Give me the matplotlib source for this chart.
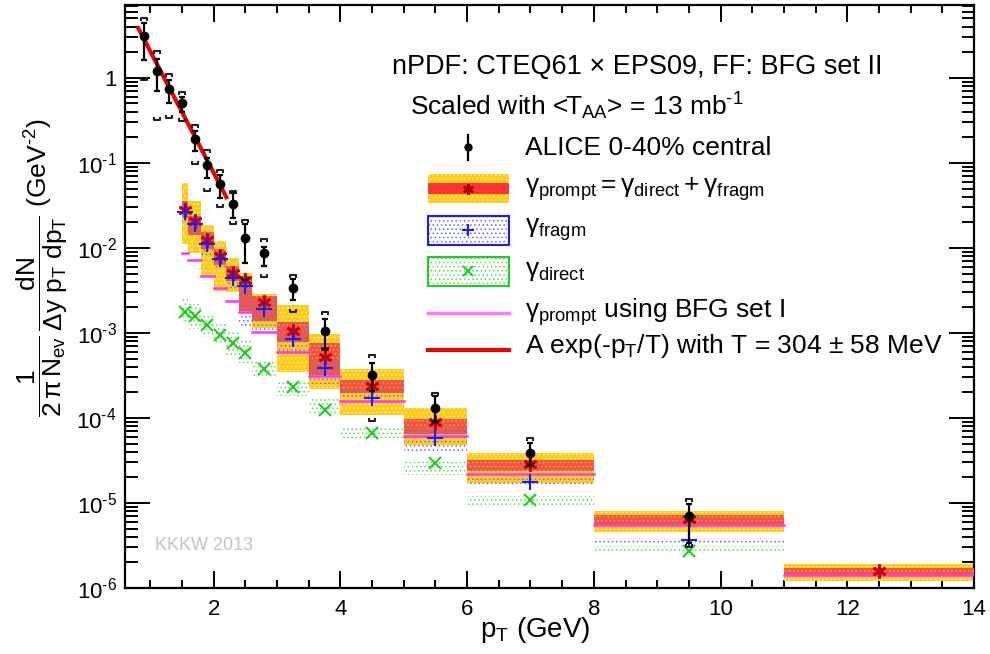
import numpy as np
import matplotlib
matplotlib.use("Agg")
import matplotlib.pyplot as plt
from matplotlib.patches import Rectangle
from matplotlib.path import Path
from matplotlib.lines import Line2D
from matplotlib.ticker import MultipleLocator, FixedLocator, FixedFormatter, NullFormatter

plt.rcParams['font.family'] = ['Liberation Sans', 'DejaVu Sans']
plt.rcParams['mathtext.fontset'] = 'custom'
plt.rcParams['mathtext.rm'] = 'Liberation Sans'
plt.rcParams['mathtext.it'] = 'Liberation Sans'
plt.rcParams['mathtext.bf'] = 'Liberation Sans:bold'
plt.rcParams['mathtext.sf'] = 'Liberation Sans'
plt.rcParams['hatch.linewidth'] = 0.6

# ALICE 0-40% central data
alice_pt = [0.9, 1.1, 1.3, 1.5, 1.7, 1.9, 2.1, 2.3, 2.5, 2.8, 3.25, 3.75, 4.5, 5.5, 7.0, 9.5]
alice_y = [3.12, 1.21, 0.737, 0.50, 0.189, 0.0942, 0.0562, 0.0333, 0.0131, 0.00861,
           0.00336, 0.00105, 3.21e-4, 1.31e-4, 3.89e-5, 7.08e-6]
alice_stat_hi = [4.44, 1.68, 0.95, 0.598, 0.237, 0.115, 0.0718, 0.0437, 0.0193, 0.01025,
                 0.00433, 0.00146, 4.38e-4, 1.81e-4, 5.11e-5, 9.81e-6]
alice_stat_lo = [1.62, 0.693, 0.504, 0.402, 0.138, 0.0656, 0.0391, 0.0225, 0.00663, 0.00621,
                 0.00245, 6.45e-4, 2.08e-4, 8.94e-5, 2.76e-5, 3.37e-6]
alice_sys_hi = [5.08, 2.09, 1.11, 0.68, 0.279, 0.140, 0.0815, 0.0465, 0.0215, 0.0126,
                0.00483, 0.00175, 5.48e-4, 1.99e-4, 5.74e-5, 1.11e-5]
alice_sys_lo = [0.94, 0.32, 0.342, 0.311, 0.0968, 0.0465, 0.0304, 0.0193, 0.00425, 0.00453,
                0.00175, 6.3e-4, 9.19e-5, 8.7e-5, 2.7e-5, 3.07e-6]

# model bins
bin_lo = [1.5, 1.6, 1.8, 2.0, 2.2, 2.4, 2.6, 3.0, 3.5, 4.0, 5.0, 6.0, 8.0, 11.0]
bin_hi = [1.6, 1.8, 2.0, 2.2, 2.4, 2.6, 3.0, 3.5, 4.0, 5.0, 6.0, 8.0, 11.0, 14.0]
bin_pt = [1.55, 1.7, 1.9, 2.1, 2.3, 2.5, 2.8, 3.25, 3.75, 4.5, 5.5, 7.0, 9.5, 12.5]

prompt = [0.0277, 0.0206, 0.01226, 0.00802, 0.00510, 0.00425, 0.00230, 0.00106, 5.15e-4,
          2.38e-4, 8.94e-5, 2.91e-5, 6.47e-6, 1.60e-6]
prompt_scale_hi = [0.0573, 0.0354, 0.0188, 0.01216, 0.0076, 0.0051, 0.0029, 0.00213, 9.7e-4,
                   3.75e-4, 1.30e-4, 3.89e-5, 8.11e-6, 1.92e-6]
prompt_scale_lo = [0.0112, 0.00877, 0.00473, 0.00315, 0.00302, 0.00181, 0.00115, 3.48e-4, 2.18e-4,
                   1.08e-4, 4.79e-5, 1.72e-5, 4.5e-6, 1.21e-6]
prompt_pdf_hi = [0.0354, 0.0238, 0.0154, 0.00978, 0.00611, 0.00473, 0.0027, 0.00133, 7.53e-4,
                 2.80e-4, 9.81e-5, 3.24e-5, 7.14e-6, 1.71e-6]
prompt_pdf_lo = [0.0238, 0.01405, 0.00978, 0.00633, 0.00413, 0.00183, 0.00139, 7.74e-4, 3.18e-4,
                 1.99e-4, 6.4e-5, 2.36e-5, 5.54e-6, 1.39e-6]

fragm = [0.0265, 0.0193, 0.0112, 0.00731, 0.00445, 0.00361, 0.00191, 8.47e-4, 3.82e-4,
         1.70e-4, 5.85e-5, 1.75e-5, 3.62e-6, 8.5e-7]
fragm_hi = [0.0333, 0.024, 0.0139, 0.00927, 0.00568, 0.00457, 0.00251, 0.00111, 4.92e-4,
            2.18e-4, 7.33e-5, 1.99e-5, 3.86e-6, 9.5e-7]
fragm_lo = [0.0193, 0.0139, 0.00831, 0.00568, 0.0033, 0.00116, 0.00106, 5.9e-4, 2.49e-4,
            1.66e-4, 3.89e-5, 1.6e-5, 3.42e-6, 7.5e-7]

direct = [0.00175, 0.00157, 0.00124, 9.45e-4, 7.54e-4, 5.74e-4, 3.75e-4, 2.34e-4, 1.24e-4,
          6.58e-5, 2.97e-5, 1.07e-5, 2.76e-6, 7.5e-7]
direct_hi = [0.00251, 0.00219, 0.00172, 0.00131, 0.00105, 8.02e-4, 4.7e-4, 2.63e-4, 1.74e-4,
             7.89e-5, 3.33e-5, 1.2e-5, 3.13e-6, 8.5e-7]
direct_lo = [0.00127, 0.00111, 8.94e-4, 7.2e-4, 5.48e-4, 4.41e-4, 2.99e-4, 1.81e-4, 1.05e-4,
             5.85e-5, 2.16e-5, 9.12e-6, 2.57e-6, 6.5e-7]

prompt_bfg1 = [0.00877, 0.0072, 0.00473, 0.00336, 0.00238, 0.00178, 0.00103, 5.9e-4, 3.12e-4,
               1.58e-4, 6.11e-5, 2.22e-5, 5.5e-6, 1.42e-6]

# exponential fit A exp(-pT/T)
fit_A = 55.0
fit_T = 0.304
fit_range = (0.81, 2.2)

# y axis decades and labels
y_ticks = [1e-6, 1e-5, 1e-4, 1e-3, 1e-2, 1e-1, 1.0]
y_ticklabels = [r'10$^{\text{-6}}$', r'10$^{\text{-5}}$', r'10$^{\text{-4}}$', r'10$^{\text{-3}}$',
                r'10$^{\text{-2}}$', r'10$^{\text{-1}}$', '1']

yellow = '#ffcc1a'
red_band = '#f2553c'
magenta = '#ff33ff'
blue_dots = '#6666ff'
green_dots = '#55dd55'

W, H = 990, 654
fig = plt.figure(figsize=(W / 100, H / 100), dpi=100)


def fx(x):
    return x / W


def fy(y):
    return 1 - y / H


ax = fig.add_axes([fx(125), fy(588), (974 - 125) / W, (588 - 5) / H])
ax.set_yscale('log')
ax.set_xlim(0.6, 14)
ax.set_ylim(1e-6, 7.2)

for i in range(len(bin_pt)):
    lo, hi = bin_lo[i], bin_hi[i]
    ax.add_patch(Rectangle((lo, prompt_scale_lo[i]), hi - lo, prompt_scale_hi[i] - prompt_scale_lo[i],
                           facecolor=yellow, edgecolor='#fff0a0', hatch='....', lw=0, zorder=2))
    ax.add_patch(Rectangle((lo, prompt_pdf_lo[i]), hi - lo, prompt_pdf_hi[i] - prompt_pdf_lo[i],
                           facecolor=red_band, edgecolor='#ffa070', hatch='....', lw=0, zorder=3))
    ax.add_patch(Rectangle((lo, fragm_lo[i]), hi - lo, fragm_hi[i] - fragm_lo[i],
                           facecolor='none', edgecolor=blue_dots, hatch='....', lw=0, zorder=4))
    ax.add_patch(Rectangle((lo, direct_lo[i]), hi - lo, direct_hi[i] - direct_lo[i],
                           facecolor='none', edgecolor=green_dots, hatch='....', lw=0, zorder=4))
    ax.plot([lo, hi], [prompt_bfg1[i], prompt_bfg1[i]], color=magenta, lw=1.8, zorder=5)

ax.plot(bin_pt, prompt, ls='none', marker=(6, 2, 0), ms=10, mew=2, color='#cc0000', zorder=6)
ax.plot(bin_pt, fragm, ls='none', marker='+', ms=11, mew=1.5, color='#1a1aff', zorder=6)
ax.plot(bin_pt, direct, ls='none', marker='x', ms=9, mew=1.5, color='#22cc22', zorder=6)

xf = np.linspace(fit_range[0], fit_range[1], 50)
ax.plot(xf, fit_A * np.exp(-xf / fit_T), color='#ee0000', lw=3, zorder=7)

y = np.array(alice_y)
yerr = [y - np.array(alice_stat_lo), np.array(alice_stat_hi) - y]
ax.errorbar(alice_pt, alice_y, yerr=yerr, fmt='o', color='black', ms=6, elinewidth=1.6,
            capsize=2.5, capthick=1.6, zorder=8)

top_br = Path([(-1, -0.8), (-1, 0), (1, 0), (1, -0.8)],
              [Path.MOVETO, Path.LINETO, Path.LINETO, Path.LINETO])
bot_br = Path([(-1, 0.8), (-1, 0), (1, 0), (1, 0.8)],
              [Path.MOVETO, Path.LINETO, Path.LINETO, Path.LINETO])
ax.plot(alice_pt, alice_sys_hi, ls='none', marker=top_br, ms=5, mew=1.5,
        mfc='none', mec='#222222', zorder=8)
ax.plot(alice_pt, alice_sys_lo, ls='none', marker=bot_br, ms=5, mew=1.5,
        mfc='none', mec='#222222', zorder=8)

# axes styling
for s in ax.spines.values():
    s.set_linewidth(1.6)
ax.xaxis.set_major_locator(FixedLocator([2, 4, 6, 8, 10, 12, 14]))
ax.xaxis.set_minor_locator(FixedLocator(np.arange(1.0, 14.0, 0.5)))
ax.yaxis.set_major_locator(FixedLocator(y_ticks))
ax.yaxis.set_major_formatter(FixedFormatter(y_ticklabels))
ax.yaxis.set_minor_locator(FixedLocator([m * d for d in y_ticks for m in range(2, 10) if m * d < 7.2]))
ax.yaxis.set_minor_formatter(NullFormatter())
ax.tick_params(which='both', direction='in', top=True, right=True, width=1.4, labelsize=16)
ax.tick_params(axis='x', which='major', length=12, pad=8)
ax.tick_params(axis='x', which='minor', length=6)
ax.tick_params(axis='y', which='major', length=18, pad=6)
ax.tick_params(axis='y', which='minor', length=9)

fig.text(fx(535), fy(630), r'p$_{\rm T}$ (GeV)', fontsize=20, ha='center', va='center')
fig.text(fx(42), fy(268),
         r'$\dfrac{1}{2\,\pi\,N_{\rm ev}}\,\dfrac{dN}{\Delta y\ p_{\rm T}\ dp_{\rm T}}$ (GeV$^{\text{-2}}$)',
         fontsize=19, rotation=90, ha='center', va='center')

fig.text(fx(392), fy(67), 'nPDF: CTEQ61 \u00d7 EPS09, FF: BFG set II', fontsize=19.5, va='center')
fig.text(fx(410), fy(106), r'Scaled with <T$_{\rm AA}$> = 13 mb$^{\text{-1}}$', fontsize=19, va='center')
fig.text(fx(155), fy(546), 'KKKW 2013', fontsize=13, color='#c3c3c3', va='center')

# legend
lx0, lx1, lxc = 428, 509, 468
fig.add_artist(Line2D([fx(lxc), fx(lxc)], [fy(135), fy(160)], color='black', lw=1.6))
fig.add_artist(Line2D([fx(lxc)], [fy(147)], marker='o', ms=5, color='black'))

fig.add_artist(Rectangle((fx(lx0), fy(203)), fx(lx1 - lx0), (203 - 174) / H, transform=fig.transFigure,
                         facecolor=yellow, edgecolor='#fff0a0', hatch='....', lw=0))
fig.add_artist(Rectangle((fx(lx0), fy(194)), fx(lx1 - lx0), (194 - 183) / H, transform=fig.transFigure,
                         facecolor='#ff3333', lw=0))
fig.add_artist(Line2D([fx(lxc)], [fy(189)], marker=(6, 2, 0), ms=8, mew=1.6, color='#aa0000'))

fig.add_artist(Rectangle((fx(lx0), fy(245)), fx(lx1 - lx0), (245 - 216) / H, transform=fig.transFigure,
                         facecolor='white', edgecolor=blue_dots, hatch='....', lw=0))
fig.add_artist(Rectangle((fx(lx0), fy(245)), fx(lx1 - lx0), (245 - 216) / H, transform=fig.transFigure,
                         facecolor='none', edgecolor='#1a1aff', lw=1.5))
fig.add_artist(Line2D([fx(lxc)], [fy(230)], marker='+', ms=8, mew=1.5, color='#1a1aff'))

fig.add_artist(Rectangle((fx(lx0), fy(286)), fx(lx1 - lx0), (286 - 257) / H, transform=fig.transFigure,
                         facecolor='white', edgecolor=green_dots, hatch='....', lw=0))
fig.add_artist(Rectangle((fx(lx0), fy(286)), fx(lx1 - lx0), (286 - 257) / H, transform=fig.transFigure,
                         facecolor='none', edgecolor='#22cc22', lw=1.5))
fig.add_artist(Line2D([fx(lxc)], [fy(271)], marker='x', ms=7, mew=1.5, color='#22cc22'))

fig.add_artist(Line2D([fx(lx0), fx(lx1)], [fy(313), fy(313)], color='#ff77ff', lw=2.5))
fig.add_artist(Line2D([fx(lx0), fx(lx1)], [fy(350), fy(350)], color='#ee0000', lw=3))

tx = fx(525)
fig.text(tx, fy(148), 'ALICE 0-40% central', fontsize=19, va='center')
fig.text(tx, fy(189), r'$\gamma_{\rm prompt} = \gamma_{\rm direct} + \gamma_{\rm fragm}$', fontsize=19, va='center')
fig.text(tx, fy(230), r'$\gamma_{\rm fragm}$', fontsize=19, va='center')
fig.text(tx, fy(271), r'$\gamma_{\rm direct}$', fontsize=19, va='center')
fig.text(tx, fy(312), r'$\gamma_{\rm prompt}$ using BFG set I', fontsize=19, va='center')
fig.text(tx, fy(346), r'A exp(-p$_{\rm T}$/T) with T = 304 $\pm$ 58 MeV', fontsize=19, va='center')

fig.savefig('out.png', dpi=100)
